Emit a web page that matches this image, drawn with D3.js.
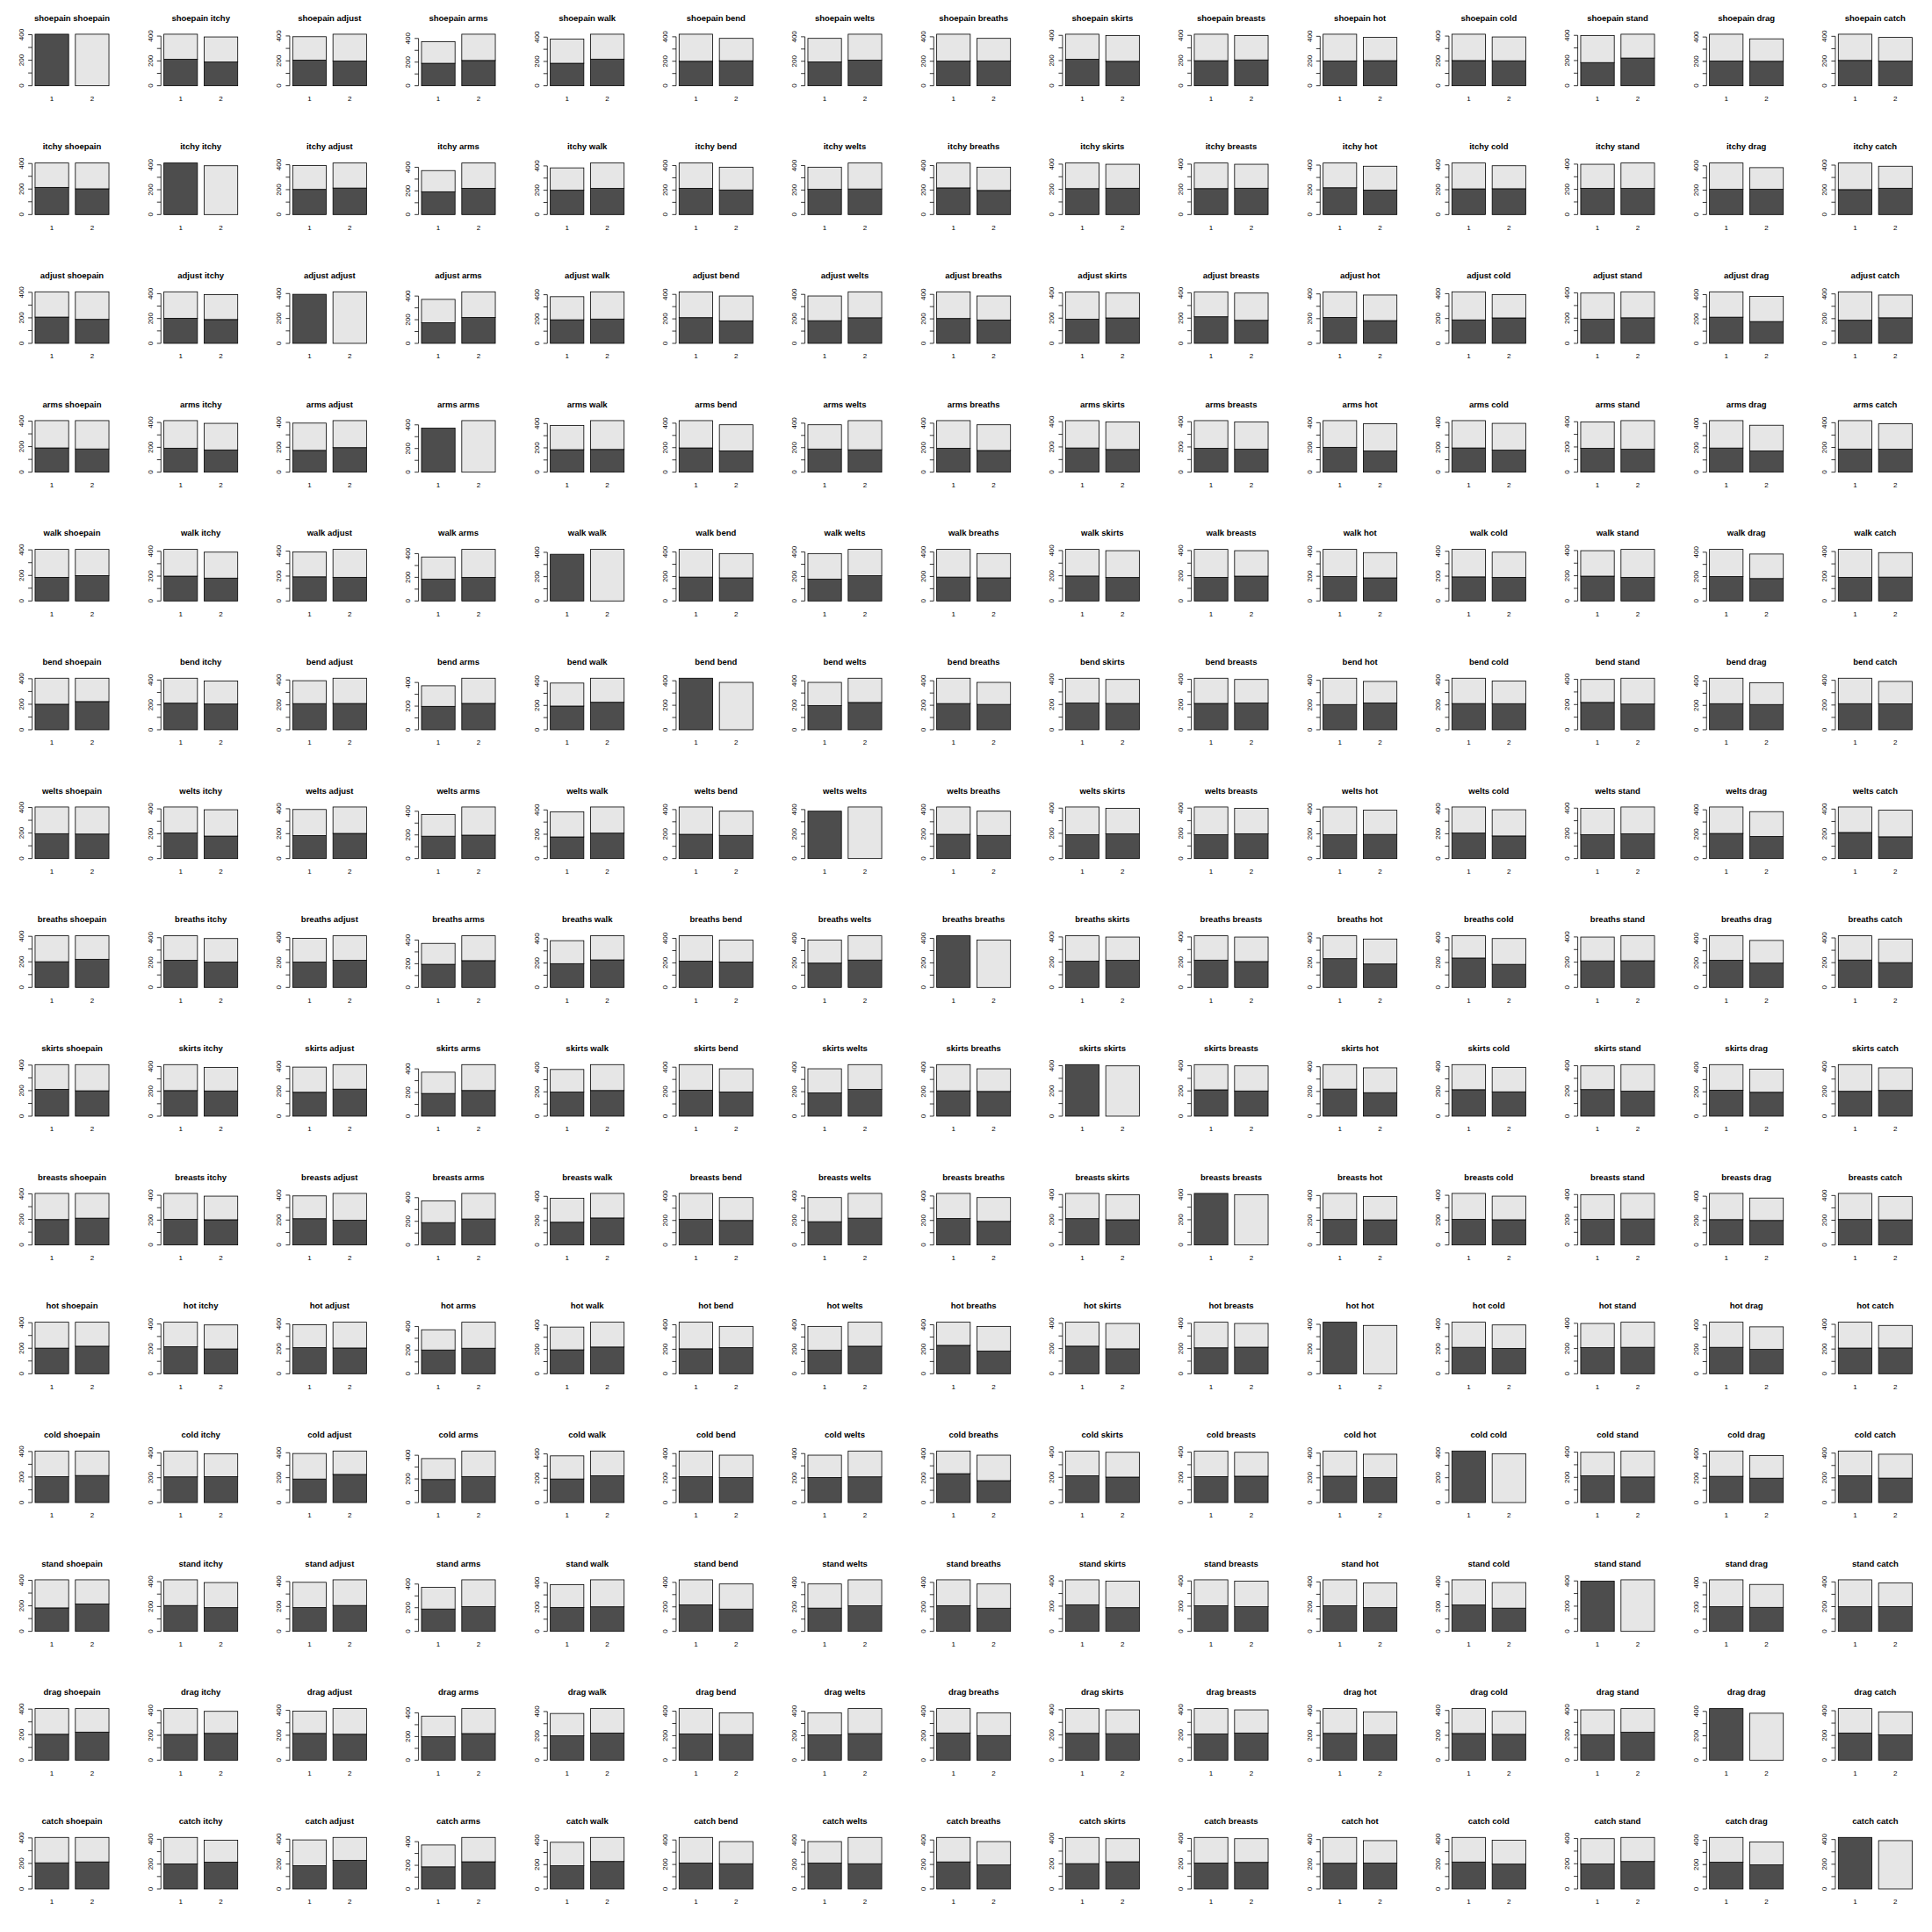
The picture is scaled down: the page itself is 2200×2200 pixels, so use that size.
<!DOCTYPE html>
<html>
<head>
<meta charset="utf-8">
<script src="https://cdn.jsdelivr.net/npm/d3@7"></script>
<style>
  body { margin: 0; background: #ffffff; }
  svg { display: block; }
  text { font-family: "Liberation Sans", Arial, Helvetica, sans-serif; fill: #000; }
</style>
</head>
<body>
<svg id="chart" width="2200" height="2200"></svg>
<script>
// ---------------- DATA ----------------
const variables = ["shoepain", "itchy", "adjust", "arms", "walk", "bend", "welts",
  "breaths", "skirts", "breasts", "hot", "cold", "stand", "drag", "catch"];

// number of cases at level 1 / level 2 of each variable
const level1Counts = [404, 415, 394, 372, 384, 421, 387, 421, 409, 409, 417, 415, 399, 423, 417];
const level2Counts = [404, 393, 414, 436, 424, 387, 421, 387, 399, 399, 391, 393, 409, 385, 391];

// cases where both the row variable and the column variable are at level 1
const bothLevel1 = [
  [404, 213, 206, 190, 185, 200, 195, 201, 210, 199, 201, 203, 184, 203, 205],
  [213, 415, 202, 193, 200, 214, 206, 218, 206, 206, 217, 207, 208, 207, 202],
  [206, 202, 394, 175, 194, 210, 185, 203, 192, 211, 210, 189, 191, 215, 187],
  [190, 193, 175, 372, 185, 198, 189, 195, 192, 189, 201, 195, 189, 198, 187],
  [185, 200, 194, 185, 384, 195, 178, 195, 198, 187, 197, 194, 197, 200, 191],
  [200, 214, 210, 198, 195, 421, 198, 214, 212, 209, 204, 211, 217, 214, 211],
  [195, 206, 185, 189, 178, 198, 387, 198, 190, 190, 192, 205, 190, 206, 211],
  [201, 218, 203, 195, 195, 214, 198, 421, 207, 216, 232, 236, 210, 222, 221],
  [210, 206, 192, 192, 198, 212, 190, 207, 409, 209, 219, 213, 211, 213, 201],
  [199, 206, 211, 189, 187, 209, 190, 216, 209, 409, 206, 206, 203, 208, 206],
  [201, 217, 210, 201, 197, 204, 192, 232, 219, 206, 417, 213, 207, 217, 208],
  [203, 207, 189, 195, 194, 211, 205, 236, 213, 206, 213, 415, 212, 215, 217],
  [184, 208, 191, 189, 197, 217, 190, 210, 211, 203, 207, 212, 399, 202, 199],
  [203, 207, 215, 198, 200, 214, 206, 222, 213, 208, 217, 215, 202, 423, 219],
  [205, 202, 187, 187, 191, 211, 211, 221, 201, 206, 208, 217, 199, 219, 417]
];

const barLabels = ["1", "2"];
const yTickValues = [0, 100, 200, 300, 400];
const yTickLabels = [0, 200, 400];

// ---------------- DRAWING ----------------
const svg = d3.select("#chart");
svg.append("rect").attr("width", 2200).attr("height", 2200).attr("fill", "#ffffff");

const cell = 2200 / 15;
const plotL = 36.6, plotR = 127.4, plotT = 36.6, plotB = 100;
const darkFill = "#4D4D4D", lightFill = "#E6E6E6";
const barWidth = 1, barSpace = 0.2;

variables.forEach((rowVar, r) => {
  variables.forEach((colVar, c) => {
    const g = svg.append("g").attr("transform", `translate(${c * cell},${r * cell})`);

    const ymax = Math.max(level1Counts[c], level2Counts[c]);
    const xLo = barSpace, xHi = barLabels.length * (barWidth + barSpace);
    const xPad = 0.04 * (xHi - xLo);
    const x = d3.scaleLinear().domain([xLo - xPad, xHi + xPad]).range([plotL, plotR]);
    const y = d3.scaleLinear().domain([-0.04 * ymax, 1.04 * ymax]).range([plotB, plotT]);

    const both = bothLevel1[r][c];
    const bars = [
      { label: barLabels[0], dark: both, total: level1Counts[c] },
      { label: barLabels[1], dark: level1Counts[r] - both, total: level2Counts[c] }
    ];

    bars.forEach((b, i) => {
      const left = barSpace + i * (barWidth + barSpace);
      const x0 = x(left), x1 = x(left + barWidth);
      // dark (row var = 1) segment
      g.append("rect")
        .attr("x", x0).attr("width", x1 - x0)
        .attr("y", y(b.dark)).attr("height", y(0) - y(b.dark))
        .attr("fill", darkFill).attr("stroke", "#000").attr("stroke-width", 0.8);
      // light (row var = 2) segment
      g.append("rect")
        .attr("x", x0).attr("width", x1 - x0)
        .attr("y", y(b.total)).attr("height", y(b.dark) - y(b.total))
        .attr("fill", lightFill).attr("stroke", "#000").attr("stroke-width", 0.8);
      // category label
      g.append("text")
        .attr("x", x(left + barWidth / 2)).attr("y", plotB + 15)
        .attr("text-anchor", "middle").attr("font-size", 8)
        .text(b.label);
    });

    // y axis
    const ax = plotL;
    g.append("line")
      .attr("x1", ax).attr("x2", ax)
      .attr("y1", y(yTickValues[0])).attr("y2", y(yTickValues[yTickValues.length - 1]))
      .attr("stroke", "#000").attr("stroke-width", 0.8);
    yTickValues.forEach(v => {
      g.append("line")
        .attr("x1", ax - 4.5).attr("x2", ax)
        .attr("y1", y(v)).attr("y2", y(v))
        .attr("stroke", "#000").attr("stroke-width", 0.8);
    });
    yTickLabels.forEach(v => {
      g.append("text")
        .attr("transform", `translate(${ax - 9.5},${y(v)}) rotate(-90)`)
        .attr("text-anchor", "middle").attr("font-size", 8)
        .text(v);
    });

    // title
    g.append("text")
      .attr("x", (plotL + plotR) / 2).attr("y", 23.5)
      .attr("text-anchor", "middle").attr("font-size", 9.5).attr("font-weight", "bold")
      .text(rowVar + " " + colVar);
  });
});
</script>
</body>
</html>
